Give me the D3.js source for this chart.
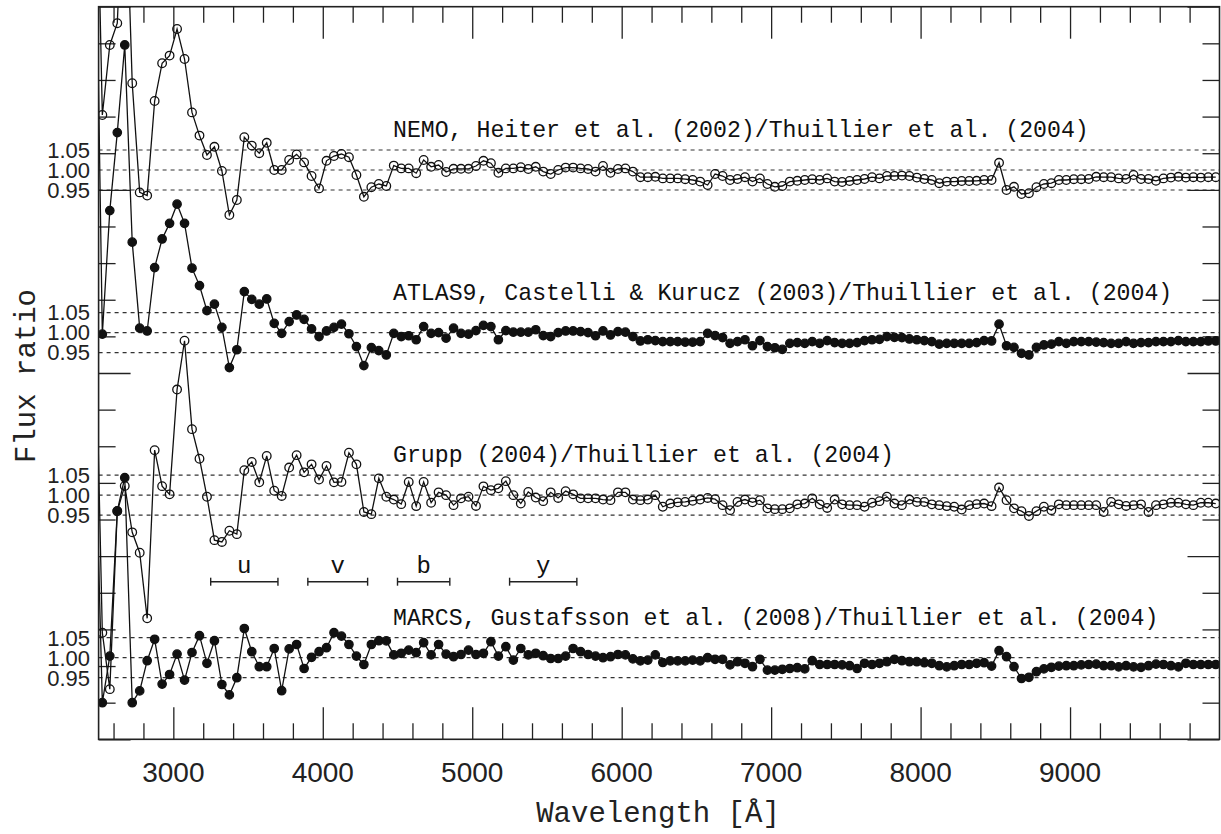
<!DOCTYPE html>
<html>
<head>
<meta charset="utf-8">
<script src="https://cdn.jsdelivr.net/npm/d3@7"></script>
<style>
  body { margin: 0; background: #fff; }
  svg { display: block; }
</style>
</head>
<body>
<div id="chart"></div>
<script>
// bin centres, 50 A apart (first one lies just left of the frame)
var wavelengths = d3.range(2475, 10000, 50);

var panelNames = ["NEMO", "ATLAS9", "Grupp", "MARCS"];
var panelLabels = [
    "NEMO, Heiter et al. (2002)/Thuillier et al. (2004)",
    "ATLAS9, Castelli & Kurucz (2003)/Thuillier et al. (2004)",
    "Grupp (2004)/Thuillier et al. (2004)",
    "MARCS, Gustafsson et al. (2008)/Thuillier et al. (2004)"
];
var panelFilled = [false, true, false, true];

var nemoRatio = [2.0,
    1.1375, 1.3125, 1.367, 1.8, 1.217, 0.944, 0.936, 1.1725, 1.267, 1.286,
    1.3525, 1.2775, 1.144, 1.086, 1.0375, 1.058, 0.9975, 0.8875, 0.925, 1.082,
    1.061, 1.042, 1.068, 1.00, 1.00, 1.025, 1.039, 1.019, 0.985, 0.954,
    1.023, 1.035, 1.04, 1.032, 0.9875, 0.933, 0.957, 0.965, 0.96, 1.011,
    1.004, 1.004, 0.992, 1.025, 1.008, 1.0125, 0.995, 1.003, 1.003, 1.003,
    1.01, 1.023, 1.017, 0.993, 1.004, 1.004, 1.007, 1.0025, 1.008, 0.996,
    0.99, 1.0, 1.006, 1.006, 1.004, 1.0025, 0.996, 1.01, 0.993, 1.0025,
    1.004, 0.996, 0.982, 0.982, 0.983, 0.979, 0.979, 0.979, 0.977, 0.975,
    0.971, 0.9625, 0.99, 0.985, 0.975, 0.9775, 0.982, 0.971, 0.979, 0.965,
    0.958, 0.96, 0.971, 0.973, 0.975, 0.977, 0.975, 0.979, 0.971, 0.97,
    0.9725, 0.975, 0.9775, 0.982, 0.979, 0.985, 0.985, 0.986, 0.985, 0.981,
    0.9775, 0.975, 0.967, 0.971, 0.971, 0.9725, 0.9725, 0.973, 0.975, 0.975,
    1.018, 0.95, 0.958, 0.94, 0.942, 0.957, 0.965, 0.967, 0.975, 0.975,
    0.977, 0.977, 0.9775, 0.983, 0.982, 0.982, 0.979, 0.9775, 0.9875, 0.9775,
    0.9775, 0.973, 0.979, 0.981, 0.983, 0.981, 0.982, 0.981, 0.982, 0.982];

var atlasRatio = [2.2,
    0.996, 1.305, 1.50, 1.719, 1.226, 1.011, 1.004, 1.1625, 1.234, 1.273,
    1.321, 1.273, 1.161, 1.1175, 1.055, 1.071, 1.013, 0.9125, 0.957, 1.1025,
    1.083, 1.071, 1.084, 1.023, 0.998, 1.0275, 1.044, 1.033, 1.009, 0.99,
    1.004, 1.013, 1.021, 0.997, 0.965, 0.9175, 0.9625, 0.955, 0.944, 0.998,
    0.99, 0.992, 0.982, 1.015, 0.998, 1.0, 0.986, 1.011, 0.998, 0.996,
    1.005, 1.018, 1.015, 0.982, 1.005, 1.001, 1.001, 1.001, 1.007, 0.9925,
    0.99, 1.0, 1.004, 1.004, 1.0025, 1.0, 0.992, 1.004, 0.994, 1.0025,
    1.001, 0.99, 0.979, 0.982, 0.98, 0.9775, 0.9775, 0.9775, 0.976, 0.976,
    0.9775, 0.998, 0.9925, 0.9875, 0.973, 0.9775, 0.982, 0.967, 0.98, 0.965,
    0.962, 0.958, 0.973, 0.975, 0.973, 0.9775, 0.973, 0.98, 0.975, 0.973,
    0.973, 0.975, 0.98, 0.982, 0.983, 0.99, 0.988, 0.9875, 0.984, 0.982,
    0.98, 0.9775, 0.971, 0.973, 0.973, 0.973, 0.973, 0.975, 0.98, 0.979,
    1.021, 0.967, 0.963, 0.948, 0.944, 0.963, 0.969, 0.971, 0.9775, 0.973,
    0.9775, 0.9775, 0.9775, 0.976, 0.975, 0.973, 0.973, 0.9775, 0.973, 0.975,
    0.975, 0.9775, 0.9775, 0.9775, 0.98, 0.9775, 0.9775, 0.9775, 0.979, 0.979];

var gruppRatio = [1.5,
    0.656, 0.515, 0.96, 1.023, 0.907, 0.856, 0.692, 1.1125, 1.0225, 1.002,
    1.264, 1.386, 1.165, 1.091, 0.996, 0.8875, 0.883, 0.911, 0.9025, 1.0625,
    1.083, 1.032, 1.098, 1.011, 0.998, 1.069, 1.10, 1.057, 1.077, 1.039,
    1.073, 1.032, 1.033, 1.106, 1.077, 0.958, 0.9525, 1.042, 0.996, 0.989,
    0.9775, 1.033, 0.9725, 1.033, 0.981, 1.007, 1.0, 0.975, 0.992, 0.996,
    0.973, 1.022, 1.0125, 1.017, 1.035, 1.0, 0.979, 1.008, 0.994, 0.985,
    1.007, 0.993, 1.01, 1.002, 0.992, 0.992, 0.992, 0.989, 0.9875, 1.007,
    1.007, 0.989, 0.9875, 0.989, 1.0, 0.971, 0.979, 0.982, 0.983, 0.986,
    0.989, 0.993, 0.99, 0.975, 0.9625, 0.983, 0.989, 0.982, 0.9875, 0.967,
    0.965, 0.965, 0.967, 0.977, 0.979, 0.992, 0.977, 0.968, 0.989, 0.977,
    0.975, 0.975, 0.971, 0.981, 0.985, 0.996, 0.979, 0.975, 0.989, 0.983,
    0.983, 0.977, 0.975, 0.9725, 0.971, 0.964, 0.975, 0.9775, 0.979, 0.9725,
    1.019, 0.9875, 0.967, 0.96, 0.948, 0.96, 0.971, 0.9625, 0.977, 0.975,
    0.975, 0.975, 0.975, 0.975, 0.958, 0.983, 0.977, 0.973, 0.975, 0.977,
    0.958, 0.975, 0.977, 0.981, 0.981, 0.977, 0.975, 0.981, 0.981, 0.979];

var marcsRatio = [1.6,
    0.8875, 1.004, 1.367, 1.45, 0.8875, 0.917, 0.9925, 1.046, 0.934, 0.958,
    1.009, 0.944, 1.013, 1.055, 0.986, 1.0425, 0.933, 0.907, 0.95, 1.073,
    1.015, 0.9775, 0.9775, 1.023, 0.9175, 1.022, 1.033, 0.973, 1.001, 1.015,
    1.025, 1.0625, 1.054, 1.033, 1.004, 0.983, 1.033, 1.0425, 1.042, 1.007,
    1.011, 1.019, 1.0125, 1.0375, 1.007, 1.033, 1.009, 1.0025, 1.008, 1.019,
    1.008, 1.011, 1.04, 1.004, 1.0275, 0.994, 1.023, 1.007, 1.011, 1.005,
    0.998, 0.998, 1.004, 1.023, 1.015, 1.008, 1.004, 1.0, 1.0025, 1.008,
    1.007, 0.997, 0.992, 0.994, 1.007, 0.988, 0.992, 0.992, 0.992, 0.994,
    0.992, 1.0, 0.996, 0.996, 0.982, 0.99, 0.986, 0.9775, 0.996, 0.969,
    0.969, 0.971, 0.973, 0.975, 0.972, 0.9925, 0.983, 0.983, 0.983, 0.982,
    0.98, 0.973, 0.986, 0.983, 0.986, 0.99, 0.996, 0.9925, 0.99, 0.99,
    0.9875, 0.986, 0.98, 0.977, 0.98, 0.983, 0.983, 0.986, 0.9875, 0.979,
    1.0175, 1.0025, 0.9775, 0.948, 0.951, 0.965, 0.972, 0.976, 0.979, 0.98,
    0.98, 0.982, 0.983, 0.984, 0.98, 0.98, 0.977, 0.98, 0.977, 0.976,
    0.98, 0.984, 0.983, 0.98, 0.977, 0.986, 0.983, 0.983, 0.983, 0.983];

var allRatios = [nemoRatio, atlasRatio, gruppRatio, marcsRatio];

var refLevels = [0.95, 1.00, 1.05];
var refLabels = ["0.95", "1.00", "1.05"];

// Stromgren filter bands
var bandNames = ["u", "v", "b", "y"];
var bandFrom = [3250, 3900, 4500, 5250];
var bandTo = [3700, 4300, 4850, 5700];

var xMajor = [3000, 4000, 5000, 6000, 7000, 8000, 9000];

var width = 1221, height = 834;
var plotLeft = 98.6, plotRight = 1219.5, plotTop = 6.7, plotBottom = 739.3;
var ttFont = "'Liberation Mono', monospace";
var numFont = "'Liberation Sans', Arial, sans-serif";

var svg = d3.select("#chart").append("svg")
    .attr("width", width)
    .attr("height", height)
    .style("background", "#fff");

var x = d3.scaleLinear().domain([2500, 10000]).range([plotLeft, plotRight]);
var yFrame = d3.scaleLinear().domain([0, 20]).range([plotBottom, plotTop]);
var panelY = d3.scalePoint().domain(panelNames).range([170, 657.7]);
var dev = d3.scaleLinear().domain([0, 0.05]).range([0, -20]);

function yOf(name, f) {
    return panelY(name) + dev(f - 1);
}

svg.append("defs").append("clipPath").attr("id", "plotClip")
    .append("rect")
    .attr("x", plotLeft).attr("y", plotTop)
    .attr("width", plotRight - plotLeft).attr("height", plotBottom - plotTop);

// dotted reference lines
for (let p = 0; p < panelNames.length; p++) {
    let name = panelNames[p];
    for (let r = 0; r < refLevels.length; r++) {
        svg.append("line")
            .attr("x1", plotLeft).attr("x2", plotRight)
            .attr("y1", yOf(name, refLevels[r]))
            .attr("y2", yOf(name, refLevels[r]))
            .attr("stroke", "#333")
            .attr("stroke-width", 1.2)
            .attr("stroke-dasharray", "4,4");
        svg.append("text")
            .attr("x", 90)
            .attr("y", yOf(name, refLevels[r]))
            .attr("dy", "0.36em")
            .attr("text-anchor", "end")
            .attr("font-family", numFont)
            .attr("font-size", 22)
            .attr("fill", "#222")
            .text(refLabels[r]);
    }
}

// frame ticks
function styleAxis(g) {
    g.select(".domain").remove();
    g.selectAll(".tick line").attr("stroke", "#222").attr("stroke-width", 1.3);
    g.selectAll(".tick text").remove();
}
var xMinor = d3.range(2600, 10000, 200).filter(function (v) { return v % 1000 != 0; });
var yMajor = [0, 5, 10, 15, 20];
var yMinor = d3.range(0, 21).filter(function (v) { return v % 5 != 0; });

svg.append("g").attr("transform", "translate(0," + plotBottom + ")")
    .call(d3.axisTop(x).tickValues(xMajor).tickSize(32)).call(styleAxis);
svg.append("g").attr("transform", "translate(0," + plotBottom + ")")
    .call(d3.axisTop(x).tickValues(xMinor).tickSize(16)).call(styleAxis);
svg.append("g").attr("transform", "translate(0," + plotTop + ")")
    .call(d3.axisBottom(x).tickValues(xMajor).tickSize(32)).call(styleAxis);
svg.append("g").attr("transform", "translate(0," + plotTop + ")")
    .call(d3.axisBottom(x).tickValues(xMinor).tickSize(16)).call(styleAxis);
svg.append("g").attr("transform", "translate(" + plotLeft + ",0)")
    .call(d3.axisRight(yFrame).tickValues(yMajor).tickSize(32)).call(styleAxis);
svg.append("g").attr("transform", "translate(" + plotLeft + ",0)")
    .call(d3.axisRight(yFrame).tickValues(yMinor).tickSize(17)).call(styleAxis);
svg.append("g").attr("transform", "translate(" + plotRight + ",0)")
    .call(d3.axisLeft(yFrame).tickValues(yMajor).tickSize(32)).call(styleAxis);
svg.append("g").attr("transform", "translate(" + plotRight + ",0)")
    .call(d3.axisLeft(yFrame).tickValues(yMinor).tickSize(17)).call(styleAxis);

// x tick labels
svg.append("g").selectAll("text")
    .data(xMajor)
    .join("text")
    .attr("x", function (d) { return x(d); })
    .attr("y", 782)
    .attr("text-anchor", "middle")
    .attr("font-family", numFont)
    .attr("font-size", 28)
    .attr("fill", "#222")
    .text(function (d) { return d; });

// series
var plot = svg.append("g").attr("clip-path", "url(#plotClip)");
for (let p = 0; p < panelNames.length; p++) {
    let name = panelNames[p];
    let pts = wavelengths.map(function (w, i) { return { w: w, f: allRatios[p][i] }; });
    let line = d3.line()
        .x(function (d) { return x(d.w); })
        .y(function (d) { return yOf(name, d.f); });
    plot.append("path")
        .datum(pts)
        .attr("d", line)
        .attr("fill", "none")
        .attr("stroke", "#111")
        .attr("stroke-width", 1.3);
    plot.append("g").selectAll("circle")
        .data(pts.slice(1))
        .join("circle")
        .attr("cx", function (d) { return x(d.w); })
        .attr("cy", function (d) { return yOf(name, d.f); })
        .attr("r", panelFilled[p] ? 4.2 : 4.3)
        .attr("fill", panelFilled[p] ? "#111" : "none")
        .attr("stroke", "#111")
        .attr("stroke-width", 1.3);
    svg.append("text")
        .attr("x", 393)
        .attr("y", panelY(name) - 33)
        .attr("font-family", ttFont)
        .attr("font-size", 23.2)
        .attr("fill", "#111")
        .text(panelLabels[p]);
}

// filter bands
var bandY = 581.7;
for (let b = 0; b < bandNames.length; b++) {
    let g = svg.append("g").attr("stroke", "#222").attr("stroke-width", 1.4);
    g.append("line").attr("x1", x(bandFrom[b])).attr("x2", x(bandTo[b]))
        .attr("y1", bandY).attr("y2", bandY);
    g.append("line").attr("x1", x(bandFrom[b])).attr("x2", x(bandFrom[b]))
        .attr("y1", bandY - 4).attr("y2", bandY + 4);
    g.append("line").attr("x1", x(bandTo[b])).attr("x2", x(bandTo[b]))
        .attr("y1", bandY - 4).attr("y2", bandY + 4);
    svg.append("text")
        .attr("x", (x(bandFrom[b]) + x(bandTo[b])) / 2)
        .attr("y", 573)
        .attr("text-anchor", "middle")
        .attr("font-family", ttFont)
        .attr("font-size", 24)
        .attr("fill", "#111")
        .text(bandNames[b]);
}

// frame
svg.append("rect")
    .attr("x", plotLeft).attr("y", plotTop)
    .attr("width", plotRight - plotLeft).attr("height", plotBottom - plotTop)
    .attr("fill", "none")
    .attr("stroke", "#222")
    .attr("stroke-width", 1.6);

// axis titles
svg.append("text")
    .attr("x", 658).attr("y", 822)
    .attr("text-anchor", "middle")
    .attr("font-family", ttFont)
    .attr("font-size", 29)
    .attr("fill", "#222")
    .text("Wavelength [Å]");
svg.append("text")
    .attr("transform", "translate(35,376) rotate(-90)")
    .attr("text-anchor", "middle")
    .attr("font-family", ttFont)
    .attr("font-size", 29)
    .attr("fill", "#222")
    .text("Flux ratio");
</script>
</body>
</html>
